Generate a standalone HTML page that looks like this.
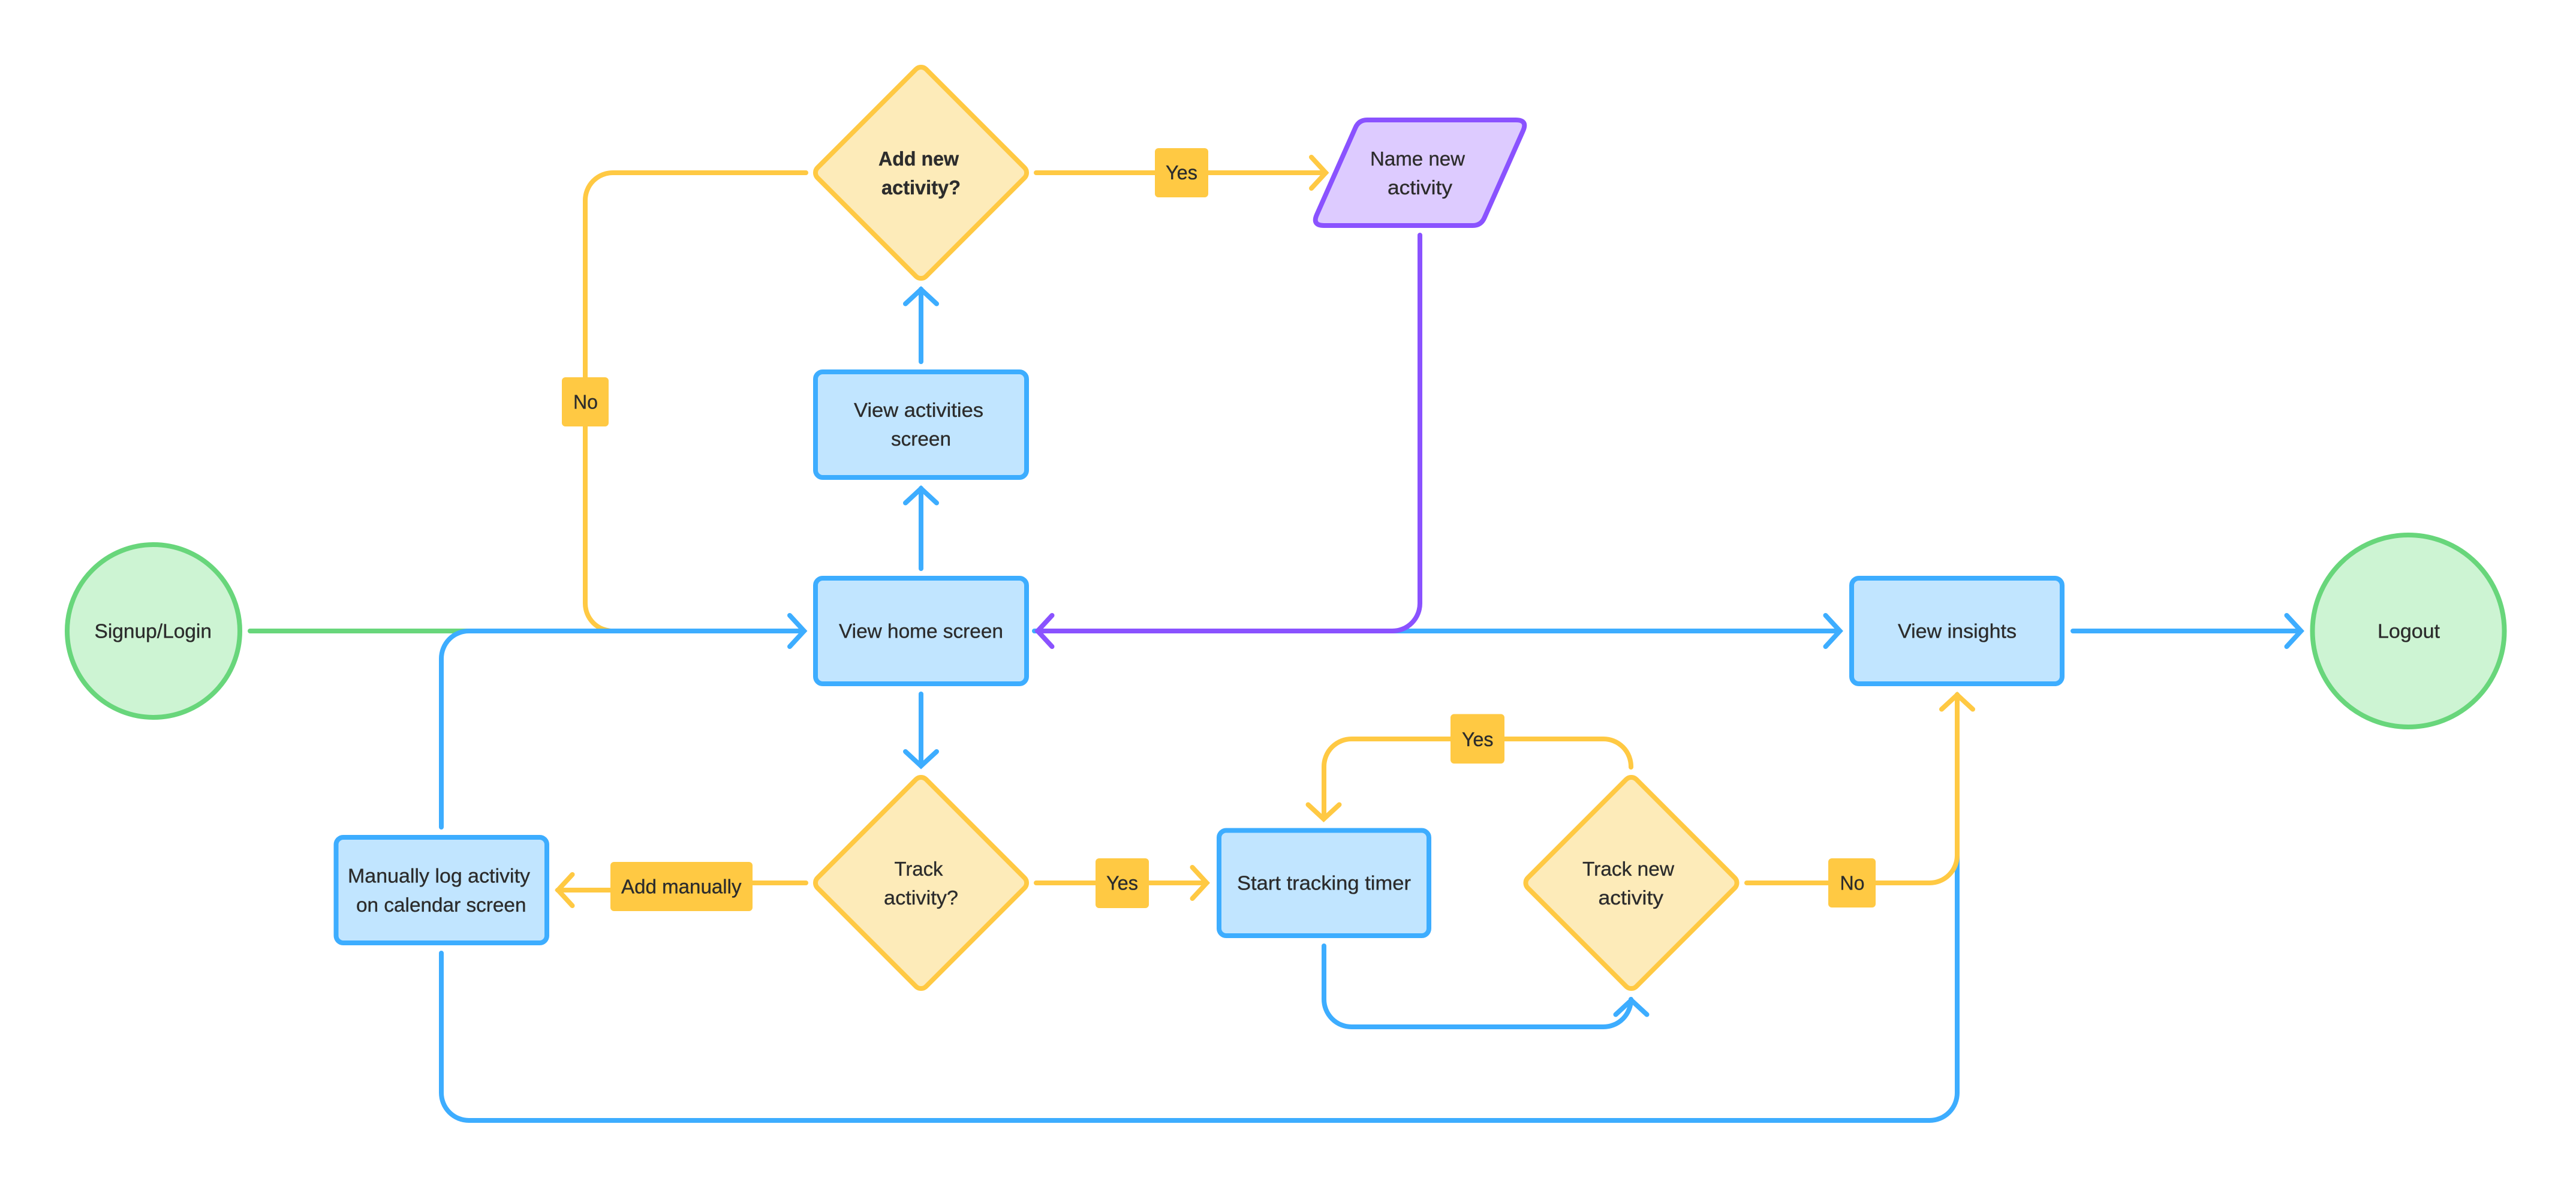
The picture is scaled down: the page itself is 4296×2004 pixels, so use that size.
<!DOCTYPE html>
<html lang="en">
<head>
<meta charset="utf-8">
<title>Activity flowchart</title>
<style>
html,body{margin:0;padding:0;background:#fff;width:4296px;height:2004px;overflow:hidden}
svg{display:block}
text{font-family:"Liberation Sans",Arial,sans-serif;font-size:33px;fill:#2c2c2c;stroke:#2c2c2c;stroke-width:.35}
.b{font-weight:700}
.l{fill:none;stroke-width:8;stroke-linecap:round;stroke-linejoin:miter;stroke-miterlimit:6}
.bl{stroke:#3dadff}.ye{stroke:#ffc943}.pu{stroke:#8a52ff}.gr{stroke:#68d67b}
.nb{fill:#c1e5ff;stroke:#3dadff;stroke-width:8}
.ny{fill:#fdebb9;stroke:#ffc943;stroke-width:8}
.lab{fill:#ffc943}
</style>
</head>
<body>
<svg width="4296" height="2004" viewBox="0 0 4296 2004" xmlns="http://www.w3.org/2000/svg">
<rect width="4296" height="2004" fill="#fff"/>

<!-- connectors: lower layer -->
<path class="l gr" d="M417 1052H790"/>
<path class="l ye" d="M1344 288H1022A46 46 0 0 0 976 334V1006A46 46 0 0 0 1022 1052H1100"/>
<path class="l bl" d="M1341 1052H782A46 46 0 0 0 736 1098V1379"/>
<path class="l bl" d="M736 1589V1822A46 46 0 0 0 782 1868H3218A46 46 0 0 0 3264 1822V1158"/>
<path class="l ye" d="M2913 1472H3218A46 46 0 0 0 3264 1426V1158"/>
<path class="l ye" d="M3238 1182.500L3264 1158.500L3290 1182.500"/>
<path class="l bl" d="M1725 1052H3068"/>
<path class="l pu" d="M2368 392V1006A46 46 0 0 1 2322 1052H1730"/>
<path class="l pu" d="M1754.500 1026L1730.500 1052L1754.500 1078"/>
<path class="l bl" d="M1317 1026L1341 1052L1317 1078"/>
<path class="l bl" d="M3044.500 1026L3068.500 1052L3044.500 1078"/>
<path class="l bl" d="M3457 1052H3837"/>
<path class="l bl" d="M3813.500 1026L3837.500 1052L3813.500 1078"/>
<path class="l bl" d="M1536 603V482"/>
<path class="l bl" d="M1510 506.500L1536 482.500L1562 506.500"/>
<path class="l bl" d="M1536 948V814"/>
<path class="l bl" d="M1510 838.500L1536 814.500L1562 838.500"/>
<path class="l bl" d="M1536 1157V1277"/>
<path class="l bl" d="M1510 1253L1536 1277L1562 1253"/>
<path class="l ye" d="M1728 288H2211"/>
<path class="l ye" d="M2187 262L2211 288L2187 314"/>
<path class="l ye" d="M1728 1472H2012"/>
<path class="l ye" d="M1988.500 1446L2012.500 1472L1988.500 1498"/>
<path class="l ye" d="M1344 1472H1255"/>
<path class="l ye" d="M1018 1484H930"/>
<path class="l ye" d="M954.500 1458L930.500 1484L954.500 1510"/>
<path class="l ye" d="M2720 1279V1278A46 46 0 0 0 2674 1232H2254A46 46 0 0 0 2208 1278V1365"/>
<path class="l ye" d="M2181.500 1341.500L2207.500 1365.500L2233.500 1341.500"/>
<path class="l bl" d="M2208 1577V1666A46 46 0 0 0 2254 1712H2674A46 46 0 0 0 2720 1666"/>
<path class="l bl" d="M2694.500 1691.500L2720.500 1667.500L2746.500 1691.500"/>

<!-- nodes -->
<circle cx="256" cy="1052" r="144" fill="#cdf4d3" stroke="#68d67b" stroke-width="8"/>
<circle cx="4016.500" cy="1052" r="160" fill="#cdf4d3" stroke="#68d67b" stroke-width="8"/>

<rect class="nb" x="1360" y="620" width="352" height="176" rx="12"/>
<rect class="nb" x="1360" y="964" width="352" height="176" rx="12"/>
<rect class="nb" x="560.500" y="1396" width="351.500" height="176" rx="12"/>
<rect class="nb" x="2033" y="1384.500" width="350" height="175.500" rx="12"/>
<rect class="nb" x="3088" y="964" width="351" height="176" rx="12"/>

<rect class="ny" x="-128" y="-128" width="256" height="256" rx="12" transform="translate(1536 288) rotate(45)"/>
<rect class="ny" x="-128" y="-128" width="256" height="256" rx="12" transform="translate(1536 1472) rotate(45)"/>
<rect class="ny" x="-128" y="-128" width="256" height="256" rx="12" transform="translate(2720.500 1472) rotate(45)"/>

<path d="M2280 200H2528Q2548 200 2540 218L2475.600 363Q2470 376 2456 376H2208Q2188 376 2196 358L2260.400 213Q2266 200 2280 200Z" fill="#ddcbff" stroke="#8a52ff" stroke-width="8"/>

<!-- edge labels -->
<rect class="lab" x="1926" y="247" width="89" height="82" rx="6"/>
<rect class="lab" x="937" y="629" width="78" height="82" rx="6"/>
<rect class="lab" x="1827" y="1431" width="89" height="83" rx="6"/>
<rect class="lab" x="2419" y="1190.500" width="90" height="82.500" rx="6"/>
<rect class="lab" x="3049" y="1431" width="79" height="82" rx="6"/>
<rect class="lab" x="1018" y="1437" width="237" height="82" rx="6"/>

<!-- text -->
<text class="b" x="1465" y="276" textLength="134" lengthAdjust="spacingAndGlyphs">Add new</text>
<text class="b" x="1470" y="324" textLength="132" lengthAdjust="spacingAndGlyphs">activity?</text>
<text x="2285" y="276" textLength="158" lengthAdjust="spacingAndGlyphs">Name new</text>
<text x="2314" y="324" textLength="108" lengthAdjust="spacingAndGlyphs">activity</text>
<text x="1944" y="299" textLength="53" lengthAdjust="spacingAndGlyphs">Yes</text>
<text x="956" y="681.500" textLength="41" lengthAdjust="spacingAndGlyphs">No</text>
<text x="1424" y="695" textLength="216" lengthAdjust="spacingAndGlyphs">View activities</text>
<text x="1486" y="743" textLength="100" lengthAdjust="spacingAndGlyphs">screen</text>
<text x="157.500" y="1063.500" textLength="195.500" lengthAdjust="spacingAndGlyphs">Signup/Login</text>
<text x="1399" y="1063.500" textLength="274" lengthAdjust="spacingAndGlyphs">View home screen</text>
<text x="3165" y="1063.500" textLength="198" lengthAdjust="spacingAndGlyphs">View insights</text>
<text x="3965" y="1063.500" textLength="104" lengthAdjust="spacingAndGlyphs">Logout</text>
<text x="1491.500" y="1460" textLength="81" lengthAdjust="spacingAndGlyphs">Track</text>
<text x="1474" y="1508" textLength="124" lengthAdjust="spacingAndGlyphs">activity?</text>
<text x="1845" y="1483.500" textLength="53" lengthAdjust="spacingAndGlyphs">Yes</text>
<text x="2063" y="1483.500" textLength="290" lengthAdjust="spacingAndGlyphs">Start tracking timer</text>
<text x="2639" y="1460" textLength="153" lengthAdjust="spacingAndGlyphs">Track new</text>
<text x="2665.500" y="1508" textLength="108.500" lengthAdjust="spacingAndGlyphs">activity</text>
<text x="2438" y="1244" textLength="52.500" lengthAdjust="spacingAndGlyphs">Yes</text>
<text x="3068.500" y="1483.500" textLength="41" lengthAdjust="spacingAndGlyphs">No</text>
<text x="580" y="1471.500" textLength="304" lengthAdjust="spacingAndGlyphs">Manually log activity</text>
<text x="594" y="1520" textLength="283.500" lengthAdjust="spacingAndGlyphs">on calendar screen</text>
<text x="1036" y="1489.500" textLength="200.500" lengthAdjust="spacingAndGlyphs">Add manually</text>
</svg>
</body>
</html>
